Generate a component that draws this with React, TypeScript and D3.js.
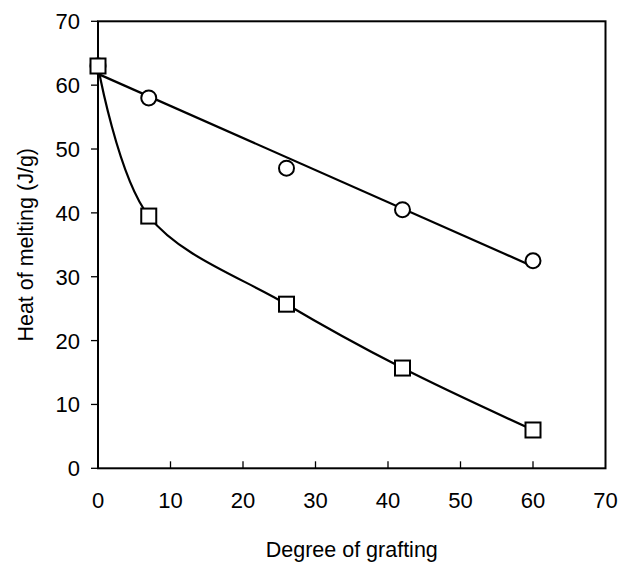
import React from "react";
import * as d3 from "d3";

// Ungrafted sample shared by both series, then grafted samples
const circleDegree = [0, 7, 26, 42, 60];
const circleHeat = [63, 58, 47, 40.5, 32.5];
const squareDegree = [0, 7, 26, 42, 60];
const squareHeat = [63, 39.5, 25.7, 15.7, 6];
const tickValues = [0, 10, 20, 30, 40, 50, 60, 70];

const W = 621;
const H = 574;
const left = 98;
const right = 605.5;
const top = 21.3;
const bottom = 468.3;
const FONT = "'Liberation Sans', Arial, sans-serif";

export default function App() {
  const x = d3.scaleLinear().domain([0, 70]).range([left, right]);
  const y = d3.scaleLinear().domain([0, 70]).range([bottom, top]);

  const circles = circleDegree.map((d, i) => ({ d, h: circleHeat[i] }));
  const squares = squareDegree.map((d, i) => ({ d, h: squareHeat[i] }));

  // least-squares fit for the circle series
  const mx = d3.mean(circles, (p) => p.d)!;
  const my = d3.mean(circles, (p) => p.h)!;
  const sxy = d3.sum(circles, (p) => (p.d - mx) * (p.h - my));
  const sxx = d3.sum(circles, (p) => (p.d - mx) ** 2);
  const slope = sxy / sxx;
  const icpt = my - slope * mx;
  const x0 = d3.min(circleDegree)!;
  const x1 = d3.max(circleDegree)!;
  const fitPath = d3
    .line<number>()
    .x((d) => x(d))
    .y((d) => y(icpt + slope * d))([x0, x1]);

  const curvePath = d3
    .line<{ d: number; h: number }>()
    .x((p) => x(p.d))
    .y((p) => y(p.h))
    .curve(d3.curveCatmullRom.alpha(0.5))(squares);

  const sq = 15;
  const r = 7.5;

  return (
    <svg
      width={W}
      height={H}
      style={{ position: "absolute", left: 0, top: 0, background: "#fff" }}
      fontFamily={FONT}
    >
      {/* frame */}
      <rect
        x={left}
        y={top}
        width={right - left}
        height={bottom - top}
        fill="none"
        stroke="#000"
        strokeWidth={2}
      />
      {/* y ticks (outward) */}
      {tickValues.map((t) => (
        <g key={"y" + t}>
          <line x1={left - 7} x2={left} y1={y(t)} y2={y(t)} stroke="#000" strokeWidth={1.3} />
          <text x={80} y={y(t)} dy="0.36em" textAnchor="end" fontSize={22}>
            {t}
          </text>
        </g>
      ))}
      {/* x ticks (inward) */}
      {tickValues.map((t) => (
        <g key={"x" + t}>
          {t > 0 && t < 70 && (
            <line x1={x(t)} x2={x(t)} y1={bottom} y2={bottom - 7} stroke="#000" strokeWidth={1.3} />
          )}
          <text x={x(t)} y={508} textAnchor="middle" fontSize={22}>
            {t}
          </text>
        </g>
      ))}

      {/* series lines */}
      <path d={fitPath!} fill="none" stroke="#000" strokeWidth={2.2} />
      <path d={curvePath!} fill="none" stroke="#000" strokeWidth={2.2} />

      {/* markers */}
      {circles.map((p, i) => (
        <circle key={"c" + i} cx={x(p.d)} cy={y(p.h)} r={r} fill="#fff" stroke="#000" strokeWidth={2} />
      ))}
      {squares.map((p, i) => (
        <rect
          key={"s" + i}
          x={x(p.d) - sq / 2}
          y={y(p.h) - sq / 2}
          width={sq}
          height={sq}
          fill="#fff"
          stroke="#000"
          strokeWidth={2}
        />
      ))}

      {/* axis titles */}
      <text x={(left + right) / 2} y={557} textAnchor="middle" fontSize={21.5}>
        Degree of grafting
      </text>
      <text
        transform={`translate(33,${(top + bottom) / 2}) rotate(-90)`}
        textAnchor="middle"
        fontSize={21.5}
      >
        Heat of melting (J/g)
      </text>
    </svg>
  );
}
